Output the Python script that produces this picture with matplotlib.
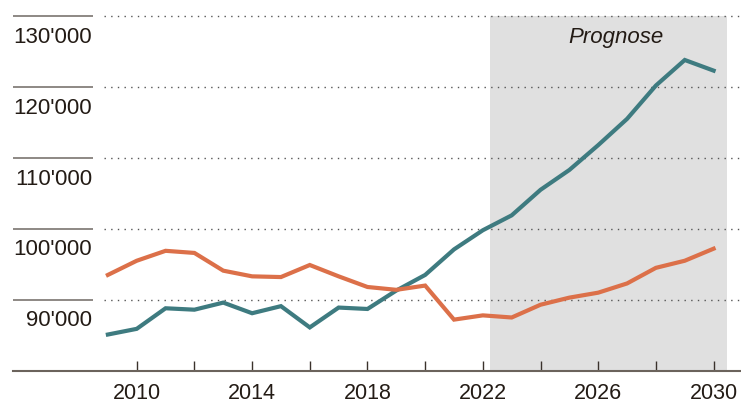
import matplotlib
matplotlib.use("Agg")
import matplotlib.pyplot as plt

years = list(range(2009, 2031))
teal = [85100, 85900, 88800, 88600, 89600, 88100, 89100, 86100, 88900, 88700,
        91300, 93500, 97100, 99800, 101900, 105500, 108300, 111800, 115500,
        120200, 123800, 122300]
orange = [93500, 95500, 96900, 96600, 94100, 93300, 93200, 94900, 93300, 91800,
          91400, 92000, 87200, 87800, 87500, 89300, 90300, 91000, 92300, 94500,
          95500, 97200]
y_grid = [90000, 100000, 110000, 120000, 130000]
y_labels = ["90'000", "100'000", "110'000", "120'000", "130'000"]
x_ticks = list(range(2010, 2031, 2))
forecast_start, forecast_end = 2022.25, 2030.48

plt.rcParams['font.family'] = ['Liberation Sans', 'DejaVu Sans']
txt = '#231b15'

fig = plt.figure(figsize=(7.41, 4.03), dpi=100)
W, H = 741, 403
ax = fig.add_axes([12.7 / W, (H - 370.7) / H, 1 - 12.7 / W, (370.7 - 16) / H])
x0, x1 = 2005.7, 2030.95
ax.set_xlim(x0, x1)
ax.set_ylim(80000, 130000)

# forecast shading
ax.axvspan(forecast_start, forecast_end, color='#e0e0e0', zorder=0, lw=0)
ax.text(2026.6, 128500, 'Prognose', style='italic', fontsize=16, color=txt,
        ha='center', va='top')

# grid: short solid stub on the left, dotted across the plot
for v, lab in zip(y_grid, y_labels):
    ax.hlines(v, x0, 2008.49, color='#7a7470', lw=1.2, zorder=1, clip_on=False)
    ax.hlines(v, 2008.85, x1, color='#555555', lw=1, linestyles=(0, (1, 3.8)),
              zorder=1, clip_on=False)
    ax.annotate(lab, (2008.45, v), xytext=(0, -19.2), textcoords='offset points',
                ha='right', va='baseline', fontsize=16, color=txt)

ax.plot(years, teal, color='#3e7b80', lw=3, zorder=3, solid_joinstyle='miter')
ax.plot(years, orange, color='#dc7049', lw=3, zorder=3, solid_joinstyle='miter')

for s in ['top', 'right', 'left']:
    ax.spines[s].set_visible(False)
ax.spines['bottom'].set_color('#6b635c')
ax.spines['bottom'].set_linewidth(1.5)
ax.set_yticks([])
ax.set_xticks(x_ticks)
ax.set_xticklabels([str(t) if t % 4 == 2 else '' for t in x_ticks])
ax.tick_params(axis='x', direction='in', length=7, width=1, color='#3a322c',
               pad=9, labelsize=15.5, labelcolor=txt)
ax.set_facecolor('none')

fig.savefig('out.png', dpi=100)
